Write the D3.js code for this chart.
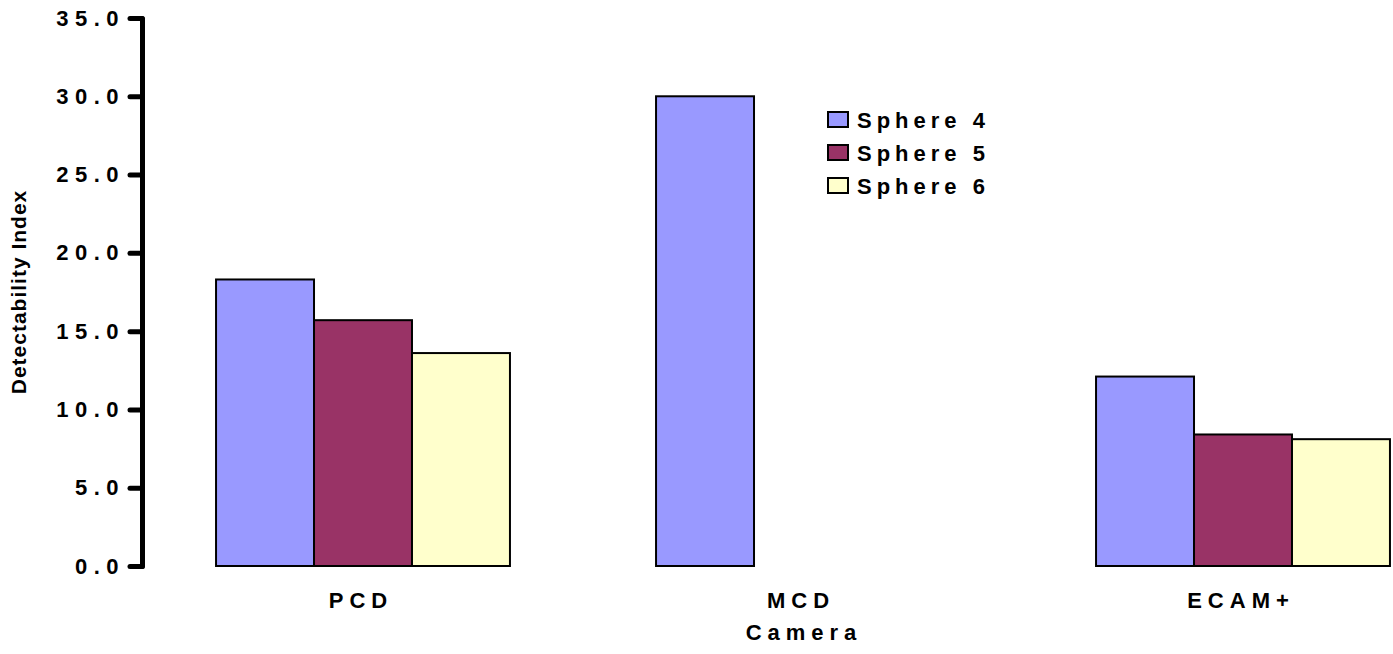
<!DOCTYPE html>
<html>
<head>
<meta charset="utf-8">
<script src="https://cdn.jsdelivr.net/npm/d3@7"></script>
<style>
  body { margin: 0; background: #fff; }
  svg { display: block; font-family: "Liberation Sans", Arial, sans-serif; font-weight: bold; }
</style>
</head>
<body>
<svg id="chart" width="1393" height="654"></svg>
<script>
// chart data
const cameras = ['PCD', 'MCD', 'ECAM+'];
const spheres = ['Sphere 4', 'Sphere 5', 'Sphere 6'];
const sphere4 = [18.3, 30.0, 12.1];
const sphere5 = [15.7, null, 8.4];
const sphere6 = [13.6, null, 8.1];
const yTicks = [0, 5, 10, 15, 20, 25, 30, 35];

const colors = ['#9999FF', '#993366', '#FFFFCC'];
const seriesValues = [sphere4, sphere5, sphere6];

const svg = d3.select('#chart');
const margin = { top: 18, left: 143, bottom: 88 };
const plotWidth = 1320; // plot runs past the right edge, like the original
const height = 654 - margin.top - margin.bottom;

const x = d3.scaleBand()
  .domain(cameras)
  .range([margin.left, margin.left + plotWidth])
  .paddingInner(0.332)
  .paddingOuter(0.166);

const xs = d3.scaleBand()
  .domain(spheres)
  .range([0, x.bandwidth()]);

const y = d3.scaleLinear()
  .domain([0, 35])
  .range([margin.top + height, margin.top]);

// bars
const rows = [];
cameras.forEach((c, i) => {
  spheres.forEach((s, j) => {
    const v = seriesValues[j][i];
    if (v != null) rows.push({ camera: c, sphere: s, value: v, color: colors[j] });
  });
});

svg.append('g')
  .selectAll('rect')
  .data(rows)
  .enter()
  .append('rect')
  .attr('x', d => x(d.camera) + xs(d.sphere))
  .attr('y', d => y(d.value))
  .attr('width', xs.bandwidth())
  .attr('height', d => y(0) - y(d.value))
  .attr('fill', d => d.color)
  .attr('stroke', '#000')
  .attr('stroke-width', 2);

// y axis
const yAxis = svg.append('g')
  .attr('transform', `translate(${margin.left - 1},0)`)
  .call(d3.axisLeft(y).tickValues(yTicks).tickFormat(d3.format('.1f')).tickSize(12).tickSizeOuter(0).tickPadding(5));

yAxis.select('.domain')
  .attr('stroke-width', 5)
  .attr('stroke-linecap', 'round');
yAxis.selectAll('.tick line')
  .attr('stroke-width', 5)
  .attr('stroke-linecap', 'round');
yAxis.selectAll('.tick text')
  .attr('font-size', 22)
  .attr('font-family', '"Liberation Sans", Arial, sans-serif')
  .attr('font-weight', 'bold')
  .attr('fill', '#000')
  .style('letter-spacing', '6.5px');

// x category labels
svg.append('g')
  .selectAll('text')
  .data(cameras)
  .enter()
  .append('text')
  .attr('x', d => x(d) + x.bandwidth() / 2 - 2)
  .attr('y', 608)
  .attr('text-anchor', 'middle')
  .attr('font-size', 22)
  .style('letter-spacing', '6px')
  .text(d => d);

// axis titles
svg.append('text')
  .attr('x', 804)
  .attr('y', 640)
  .attr('text-anchor', 'middle')
  .attr('font-size', 22)
  .style('letter-spacing', '6px')
  .text('Camera');

svg.append('text')
  .attr('transform', 'rotate(-90)')
  .attr('x', -292)
  .attr('y', 26)
  .attr('text-anchor', 'middle')
  .attr('font-size', 21)
  .style('letter-spacing', '1px')
  .text('Detectability Index');

// legend
const legend = svg.append('g')
  .attr('transform', 'translate(828,112)');

const item = legend.selectAll('g')
  .data(spheres)
  .enter()
  .append('g')
  .attr('transform', (d, i) => `translate(0,${i * 33})`);

item.append('rect')
  .attr('width', 20)
  .attr('height', 15)
  .attr('fill', (d, i) => colors[i])
  .attr('stroke', '#000')
  .attr('stroke-width', 2);

item.append('text')
  .attr('x', 29)
  .attr('y', 16)
  .attr('font-size', 22)
  .style('letter-spacing', '5px')
  .text(d => d);
</script>
</body>
</html>
